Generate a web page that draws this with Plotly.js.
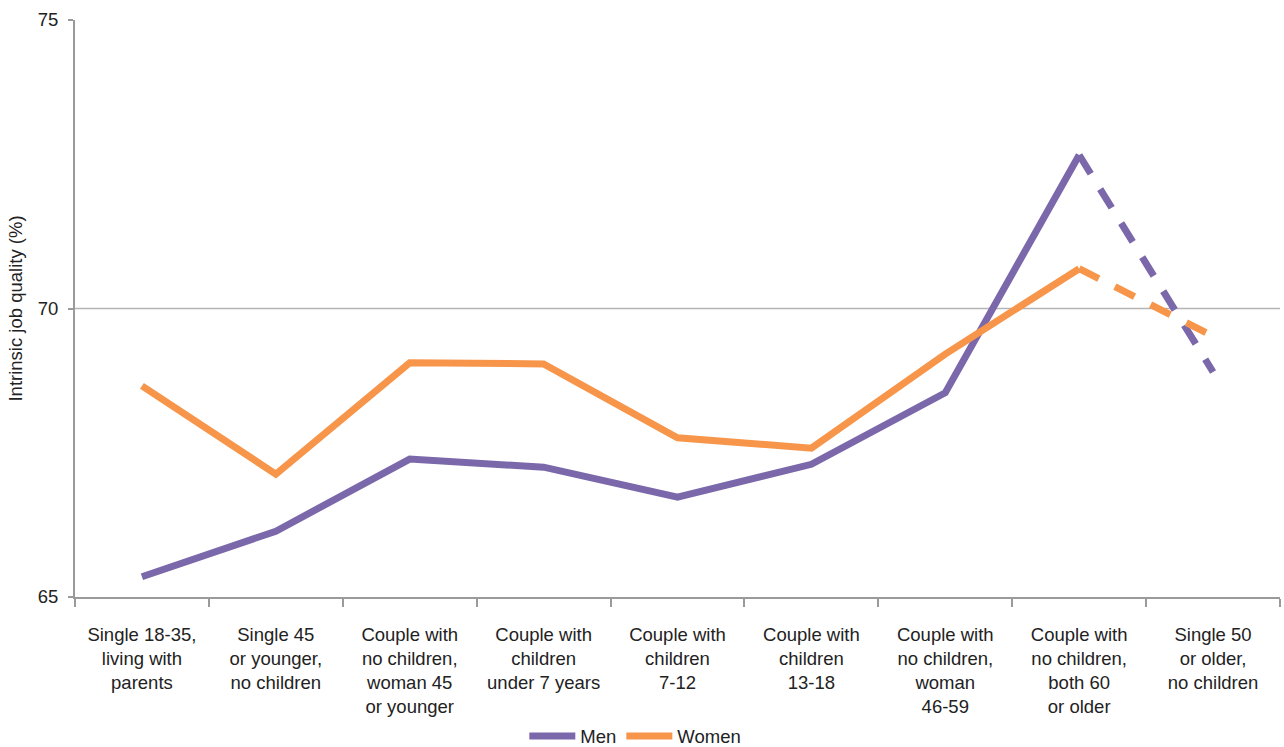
<!DOCTYPE html>
<html>
<head>
<meta charset="utf-8">
<script src="https://cdn.plot.ly/plotly-3.0.1.min.js"></script>
<style>html,body{margin:0;padding:0;background:#fff;}#chart{width:1284px;height:747px;}</style>
</head>
<body>
<div id="chart"></div>
<script>
const categories = [
  "Single 18-35,<br>living with<br>parents",
  "Single 45<br>or younger,<br>no children",
  "Couple with<br>no children,<br>woman 45<br>or younger",
  "Couple with<br>children<br>under 7 years",
  "Couple with<br>children<br>7-12",
  "Couple with<br>children<br>13-18",
  "Couple with<br>no children,<br>woman<br>46-59",
  "Couple with<br>no children,<br>both 60<br>or older",
  "Single 50<br>or older,<br>no children"
];
const men = [65.35, 66.14, 67.39, 67.25, 66.73, 67.30, 68.54, 72.66, 68.90];
const women = [68.66, 67.13, 69.06, 69.04, 67.76, 67.58, 69.21, 70.69, 69.52];
const yTicks = [65, 70, 75];

const menColor = "#7B68AA";
const womenColor = "#F7964A";
const n = categories.length;

const traces = [
  {x: categories.slice(0, n-1), y: men.slice(0, n-1), name: "Men", mode: "lines",
   line: {color: menColor, width: 7}},
  {x: categories.slice(n-2), y: men.slice(n-2), name: "Men", mode: "lines", showlegend: false,
   line: {color: menColor, width: 7, dash: "22px,18px"}},
  {x: categories.slice(0, n-1), y: women.slice(0, n-1), name: "Women", mode: "lines",
   line: {color: womenColor, width: 7}},
  {x: categories.slice(n-2), y: women.slice(n-2), name: "Women", mode: "lines", showlegend: false,
   line: {color: womenColor, width: 7, dash: "22px,18px"}}
];

const layout = {
  width: 1284, height: 747,
  margin: {l: 75, r: 4, t: 20, b: 150},
  paper_bgcolor: "#fff", plot_bgcolor: "#fff",
  font: {family: "Liberation Sans, Arial, sans-serif", size: 18.5, color: "#222"},
  showlegend: true,
  legend: {orientation: "h", x: 0.465, xanchor: "center", yref: "container", y: 0.014, yanchor: "middle",
           font: {size: 18.5, color: "#222"}, traceorder: "normal", itemwidth: 46},
  xaxis: {
    type: "category", categoryorder: "array", categoryarray: categories,
    range: [-0.5, n - 0.5], automargin: false,
    showline: true, linecolor: "#9a9a9c", linewidth: 2,
    ticks: "outside", tickson: "boundaries", ticklen: 8, tickwidth: 2, tickcolor: "#9a9a9c",
    showgrid: false, zeroline: false,
    tickfont: {size: 18.5, color: "#222"}, ticklabelstandoff: 20,
    fixedrange: true
  },
  yaxis: {
    range: [65, 75], tickvals: yTicks, ticktext: yTicks.map(String), automargin: false,
    showline: true, linecolor: "#9a9a9c", linewidth: 2,
    ticks: "outside", ticklen: 5, tickwidth: 2, tickcolor: "#9a9a9c",
    showgrid: false, zeroline: false,
    tickfont: {size: 18.5, color: "#222"}, ticklabelstandoff: 6,
    title: {text: "Intrinsic job quality (%)", font: {size: 18.5, color: "#222"}, standoff: 10},
    fixedrange: true
  },
  shapes: [
    {type: "line", xref: "paper", x0: 0, x1: 1, yref: "y", y0: 70, y1: 70,
     line: {color: "#b4b4b4", width: 1.5}, layer: "below"}
  ]
};

Plotly.newPlot("chart", traces, layout, {displayModeBar: false, staticPlot: true});
</script>
</body>
</html>
